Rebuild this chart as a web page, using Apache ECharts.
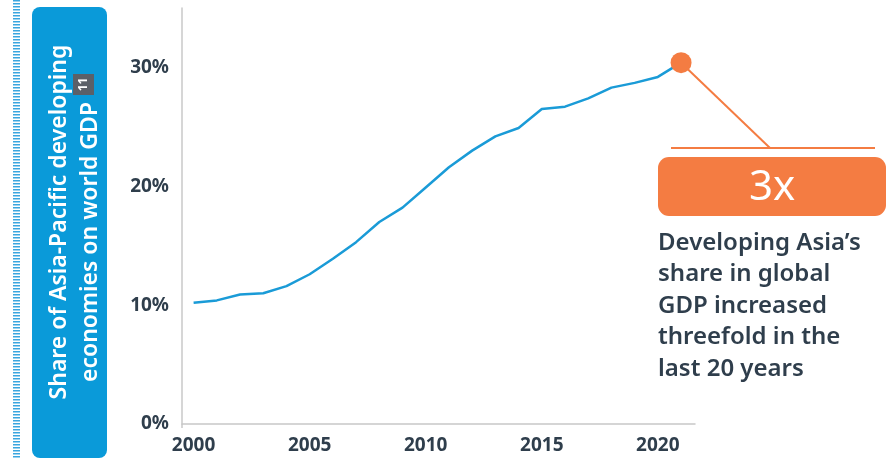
<!DOCTYPE html>
<html lang="en">
<head>
    <meta charset="UTF-8">
    <title>Asia-Pacific share of world GDP</title>
    <script src="https://cdn.jsdelivr.net/npm/echarts@6/dist/echarts.min.js"></script>
    <style>
        body { margin: 0; background: #fff; }
    </style>
</head>
<body>
    <div id="main" style="width:890px; height:460px;"></div>
    <script>
        // data
        var years = [2000, 2001, 2002, 2003, 2004, 2005, 2006, 2007, 2008, 2009, 2010,
                     2011, 2012, 2013, 2014, 2015, 2016, 2017, 2018, 2019, 2020, 2021];
        var share = [10.2, 10.4, 10.9, 11.0, 11.6, 12.6, 13.9, 15.3, 17.0, 18.2, 19.9,
                     21.6, 23.0, 24.2, 24.9, 26.5, 26.7, 27.4, 28.3, 28.7, 29.2, 30.4];
        var xTicks = [2000, 2005, 2010, 2015, 2020];
        var yTicks = [0, 10, 20, 30];

        var blue = '#1a9bd7';
        var orange = '#f47c42';
        var ink = '#2f3e4c';
        var font = '"Noto Sans", "Open Sans", sans-serif';

        var lineData = [];
        for (var i = 0; i < years.length; i++) {
            var item = { value: [years[i], share[i]] };
            if (i === years.length - 1) {
                // highlighted last point
                item.symbol = 'circle';
                item.symbolSize = 21;
                item.itemStyle = { color: orange };
            }
            lineData.push(item);
        }

        var myChart = echarts.init(document.getElementById('main'));

        var option = {
            animation: false,
            grid: { left: 182, right: 195, top: 8, bottom: 36 },
            xAxis: {
                type: 'value',
                min: 1999.5,
                max: 2021.6,
                offset: 4,  // base line sits a little under 0%
                splitLine: { show: false },
                axisTick: { show: false },
                axisLine: { show: true, lineStyle: { color: '#c8c8c8', width: 1.5 } },
                axisLabel: {
                    customValues: xTicks,
                    formatter: function (v) { return String(v); },
                    margin: 8,
                    color: ink,
                    fontSize: 19,
                    fontWeight: 'bold',
                    fontFamily: font
                }
            },
            yAxis: {
                type: 'value',
                min: 0,
                max: 35,
                splitLine: { show: false },
                axisTick: { show: false },
                axisLine: { show: true, lineStyle: { color: '#c8c8c8', width: 1.5 } },
                axisLabel: {
                    customValues: yTicks,
                    formatter: '{value}%',
                    margin: 13,
                    color: ink,
                    fontSize: 19,
                    fontWeight: 'bold',
                    fontFamily: font
                }
            },
            series: [{
                type: 'line',
                data: lineData,
                symbol: 'none',
                smooth: false,
                lineStyle: { color: blue, width: 2.5 },
                z: 3
            }]
        };
        myChart.setOption(option);

        // annotation, anchored on the last data point
        var dot = myChart.convertToPixel({ gridIndex: 0 }, [years[years.length - 1], share[share.length - 1]]);
        var elbowX = 770, elbowY = 148;

        var noteLines = ['Developing Asia\u2019s', 'share in global', 'GDP increased',
                         'threefold in the', 'last 20 years'];

        var graphics = [
            // striped bar at far left
            {
                type: 'line',
                shape: { x1: 16.5, y1: 0, x2: 16.5, y2: 458 },
                style: { stroke: '#3aa6df', lineWidth: 7, lineDash: [1.5, 1.5] },
                silent: true
            },
            // y axis line continues down to the base line
            {
                type: 'line',
                shape: { x1: 182, y1: 424, x2: 182, y2: 428 },
                style: { stroke: '#c8c8c8', lineWidth: 1.5 }
            },
            // blue title box
            {
                type: 'rect',
                shape: { x: 32, y: 7, width: 75, height: 451, r: 8 },
                style: { fill: '#0a9ad9' }
            },
            {
                type: 'text',
                x: 59, y: 222, rotation: Math.PI / 2,
                style: {
                    text: 'Share of Asia-Pacific developing',
                    fill: '#fff', font: '600 23px ' + font,
                    align: 'center', verticalAlign: 'middle'
                }
            },
            {
                type: 'text',
                x: 90, y: 242, rotation: Math.PI / 2,
                style: {
                    text: 'economies on world GDP',
                    fill: '#fff', font: '600 23px ' + font,
                    align: 'center', verticalAlign: 'middle'
                }
            },
            {
                type: 'rect',
                shape: { x: 73, y: 74, width: 21, height: 21 },
                style: { fill: '#5b6068' }
            },
            {
                type: 'text',
                x: 83.5, y: 84.5, rotation: Math.PI / 2,
                style: {
                    text: '11', fill: '#fff', font: 'bold 12px ' + font,
                    align: 'center', verticalAlign: 'middle'
                }
            },
            // connector from the dot
            {
                type: 'polyline',
                shape: { points: [[dot[0], dot[1]], [elbowX, elbowY]] },
                style: { stroke: orange, lineWidth: 2, fill: null },
                z: 1
            },
            {
                type: 'line',
                shape: { x1: 671, y1: elbowY, x2: 875, y2: elbowY },
                style: { stroke: orange, lineWidth: 2 }
            },
            // 3x box
            {
                type: 'rect',
                shape: { x: 658, y: 157, width: 228, height: 59, r: 11 },
                style: { fill: orange }
            },
            {
                type: 'text',
                x: 772, y: 188,
                style: {
                    text: '3x', fill: '#fff', font: '42px ' + font,
                    align: 'center', verticalAlign: 'middle'
                }
            }
        ];

        for (var k = 0; k < noteLines.length; k++) {
            graphics.push({
                type: 'text',
                x: 658, y: 243 + k * 31.5,
                style: {
                    text: noteLines[k], fill: ink, font: '600 24px ' + font,
                    align: 'left', verticalAlign: 'middle'
                }
            });
        }

        myChart.setOption({ graphic: graphics });
    </script>
</body>
</html>
